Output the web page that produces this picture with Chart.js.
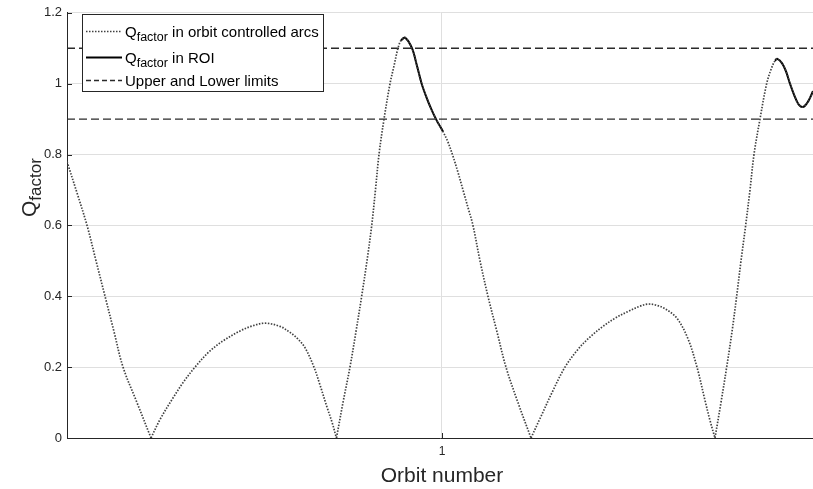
<!DOCTYPE html>
<html><head><meta charset="utf-8">
<script src="https://cdn.jsdelivr.net/npm/chart.js@4/dist/chart.umd.min.js"></script>
<style>html,body{margin:0;padding:0;background:#fff;overflow:hidden}#wrap{position:relative;width:813px;height:489px}</style>
</head><body><div id="wrap"><canvas id="c" width="813" height="489"></canvas></div>
<script>
// ---- data ----
const arcX = [
  0.5, 0.5133, 0.5267, 0.5387, 0.5507, 0.5627, 0.5747, 0.5933, 0.612, 0.624,
  0.6413, 0.656, 0.6707, 0.6893, 0.708, 0.7307, 0.7467, 0.764, 0.784, 0.7973,
  0.8067, 0.8173, 0.8293, 0.8373, 0.8467, 0.8533, 0.8593,
  0.868, 0.8773, 0.8853, 0.8929, 0.9, 0.9063, 0.9113, 0.916, 0.9227, 0.9307,
  0.936, 0.9413, 0.9453, 0.9507, 0.96, 0.9667, 0.9729, 0.9787, 0.9853, 0.992,
  1.0013, 1.008, 1.0147, 1.0213, 1.028, 1.0347, 1.0413, 1.0507, 1.0613, 1.0733,
  1.0853, 1.1013, 1.1187,
  1.1307, 1.148, 1.164, 1.1813, 1.1973, 1.2147, 1.2307, 1.248, 1.264, 1.2747,
  1.2853, 1.2973, 1.3133, 1.328, 1.34, 1.3507, 1.3573, 1.364,
  1.372, 1.3796, 1.3867, 1.3929, 1.3987, 1.4049, 1.4107, 1.416, 1.424, 1.4329,
  1.4387, 1.444, 1.4471, 1.4533, 1.4587, 1.464, 1.4707, 1.476, 1.4813, 1.4867,
  1.4907, 1.4947
];
const arcQ = [
  0.78, 0.692, 0.60, 0.50, 0.40, 0.30, 0.20, 0.10, 0.00, 0.052,
  0.113, 0.16, 0.20, 0.243, 0.274, 0.302, 0.316, 0.324, 0.315, 0.298,
  0.282, 0.255, 0.20, 0.15, 0.087, 0.045, 0.00,
  0.10, 0.20, 0.30, 0.40, 0.50, 0.60, 0.70, 0.80, 0.90, 1.00,
  1.05, 1.10, 1.122, 1.13, 1.10, 1.05, 1.00, 0.965, 0.93, 0.90,
  0.865, 0.835, 0.795, 0.75, 0.70, 0.65, 0.60, 0.50, 0.40, 0.30,
  0.20, 0.10, 0.00,
  0.055, 0.134, 0.20, 0.25, 0.285, 0.315, 0.338, 0.357, 0.372, 0.378,
  0.375, 0.365, 0.338, 0.28, 0.20, 0.106, 0.05, 0.00,
  0.10, 0.20, 0.30, 0.40, 0.50, 0.60, 0.70, 0.80, 0.90, 1.00,
  1.04, 1.065, 1.07, 1.058, 1.035, 1.00, 0.962, 0.94, 0.934, 0.945,
  0.96, 0.979
];
const roi1X = [0.9453, 0.9507, 0.96, 0.9667, 0.9729, 0.9787, 0.9853, 0.992, 1.0013];
const roi1Q = [1.122, 1.13, 1.10, 1.05, 1.00, 0.965, 0.93, 0.90, 0.865];
const roi2X = [1.444, 1.4471, 1.4533, 1.4587, 1.464, 1.4707, 1.476, 1.4813, 1.4867, 1.4907, 1.4947];
const roi2Q = [1.065, 1.07, 1.058, 1.035, 1.00, 0.962, 0.94, 0.934, 0.945, 0.96, 0.979];
const limitValues = [1.1, 0.9];
const xRange = [0.5, 1.4947];
const xTickValues = [1];
const yRange = [0, 1.2];
const yStep = 0.2;
const legendMain = ['Q', 'Q', 'Upper and Lower limits'];
const legendSub = ['factor', 'factor', ''];
const legendRest = [' in orbit controlled arcs', ' in ROI', ''];
const xTitle = 'Orbit number';
const yTitleMain = 'Q';
const yTitleSub = 'factor';

// ---- build datasets ----
const zip = (xs, ys) => xs.slice(0, Math.min(xs.length, ys.length)).map((x, i) => ({x, y: ys[i]}));
// split the arc curve at its zero cusps so each arch is smoothed separately
const arcPts = zip(arcX, arcQ);
const arcSegments = [];
let cur = [];
arcPts.forEach((p, i) => {
  cur.push(p);
  if (p.y === 0 && i > 0 && i < arcPts.length - 1) { arcSegments.push(cur); cur = [p]; }
});
if (cur.length) arcSegments.push(cur);

const limitPts = [];
limitValues.forEach(v => {
  limitPts.push({x: xRange[0], y: v}, {x: xRange[1], y: v}, {x: xRange[1], y: null});
});

const FONT = '"Liberation Sans", Arial, Helvetica, sans-serif';
const ARC_STYLE = { borderColor: '#404040', borderWidth: 1.7, borderDash: [1.5, 1.5] };
const ROI_STYLE = { borderColor: '#000000', borderWidth: 2 };
const LIM_STYLE = { borderColor: '#2a2a2a', borderWidth: 1.3, borderDash: [8, 4] };

const deco = {
  id: 'deco',
  afterDraw(chart) {
    const ctx = chart.ctx, ca = chart.chartArea;
    const xs = chart.scales.x, ys = chart.scales.y;
    ctx.save();
    // inward tick marks
    ctx.strokeStyle = '#262626'; ctx.lineWidth = 1; ctx.setLineDash([]);
    ys.ticks.forEach(t => {
      const y = Math.round(ys.getPixelForValue(t.value)) + 0.5;
      ctx.beginPath(); ctx.moveTo(ca.left, y); ctx.lineTo(ca.left + 5, y); ctx.stroke();
    });
    xs.ticks.forEach(t => {
      const x = Math.round(xs.getPixelForValue(t.value)) + 0.5;
      ctx.beginPath(); ctx.moveTo(x, ca.bottom); ctx.lineTo(x, ca.bottom - 5); ctx.stroke();
    });
    // x title
    ctx.fillStyle = '#262626';
    ctx.font = '21px ' + FONT; ctx.textAlign = 'center'; ctx.textBaseline = 'alphabetic';
    ctx.fillText(xTitle, ca.left + 375, 482);
    // y title with subscript
    ctx.save();
    ctx.translate(36, 217); ctx.rotate(-Math.PI / 2);
    ctx.textAlign = 'left';
    ctx.font = '21px ' + FONT;
    ctx.fillText(yTitleMain, 0, 0);
    const qw = ctx.measureText(yTitleMain).width;
    ctx.font = '17px ' + FONT;
    ctx.fillText(yTitleSub, qw, 5);
    ctx.restore();

    // legend box
    const bx = 82.5, by = 14.5, bw = 241, bh = 77;
    ctx.fillStyle = '#ffffff'; ctx.fillRect(bx, by, bw, bh);
    ctx.strokeStyle = '#262626'; ctx.lineWidth = 1; ctx.strokeRect(bx, by, bw, bh);
    const rows = [31, 57, 80];
    const styles = [ARC_STYLE, ROI_STYLE, LIM_STYLE];
    rows.forEach((ry, i) => {
      const st = styles[i];
      ctx.save();
      ctx.strokeStyle = st.borderColor; ctx.lineWidth = st.borderWidth;
      ctx.setLineDash(i === 2 ? [5, 3] : (st.borderDash || []));
      ctx.beginPath(); ctx.moveTo(86, ry + 0.5); ctx.lineTo(122, ry + 0.5); ctx.stroke();
      ctx.restore();
      ctx.fillStyle = '#000';
      ctx.textAlign = 'left'; ctx.textBaseline = 'alphabetic';
      ctx.font = '15px ' + FONT;
      let tx = 125;
      const base = ry + 5.5;
      ctx.fillText(legendMain[i], tx, base);
      tx += ctx.measureText(legendMain[i]).width;
      if (legendSub[i]) {
        ctx.font = '12.5px ' + FONT;
        ctx.fillText(legendSub[i], tx, base + 4);
        tx += ctx.measureText(legendSub[i]).width;
        ctx.font = '15px ' + FONT;
        ctx.fillText(legendRest[i], tx, base);
      }
    });
    ctx.restore();
  }
};

const datasets = [];
arcSegments.forEach((seg, k) => {
  datasets.push(Object.assign({ label: 'arcs ' + k, data: seg, pointRadius: 0, tension: 0.35, fill: false }, ARC_STYLE));
});
datasets.push(Object.assign({ label: 'roi1', data: zip(roi1X, roi1Q), pointRadius: 0, tension: 0.3, fill: false }, ROI_STYLE));
datasets.push(Object.assign({ label: 'roi2', data: zip(roi2X, roi2Q), pointRadius: 0, tension: 0.3, fill: false }, ROI_STYLE));
datasets.push(Object.assign({ label: 'limits', data: limitPts, pointRadius: 0, tension: 0, spanGaps: false, fill: false }, LIM_STYLE));

new Chart(document.getElementById('c'), {
  type: 'line',
  data: { datasets },
  options: {
    responsive: false, animation: false, devicePixelRatio: 1,
    layout: { padding: { top: 7, right: 0, left: 0, bottom: 0 } },
    plugins: { legend: { display: false }, tooltip: { enabled: false } },
    scales: {
      x: {
        type: 'linear', min: xRange[0], max: xRange[1],
        afterBuildTicks: s => { s.ticks = xTickValues.map(v => ({value: v})); },
        afterFit: s => { s.height = 51; },
        grid: { color: '#dfdfdf', drawTicks: false },
        border: { display: true, color: '#262626', width: 1 },
        ticks: { color: '#262626', font: { family: FONT, size: 12 }, padding: 6, maxRotation: 0,
                 callback: v => String(Number(v.toFixed(2))) }
      },
      y: {
        min: yRange[0], max: yRange[1],
        afterFit: s => { s.width = 67; },
        grid: { color: '#dfdfdf', drawTicks: false },
        border: { display: true, color: '#262626', width: 1 },
        ticks: { stepSize: yStep, color: '#262626', font: { family: FONT, size: 13 }, padding: 5,
                 callback: v => String(Number(v.toFixed(2))) }
      }
    }
  },
  plugins: [deco]
});
</script>
</body></html>
